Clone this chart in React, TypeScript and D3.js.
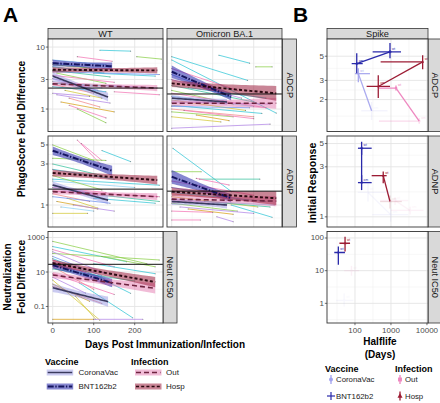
import React from "react";
import * as d3 from "d3";

const FONT = "'Liberation Sans', Arial, Helvetica, sans-serif";

// ---------- categories ----------
const variants = ["WT", "Omicron BA.1"];
const assays = ["ADCP", "ADNP", "Neut IC50"];
const vaccineGroups = ["CoronaVac", "BNT162b2"];
const infectionGroups = ["Out", "Hosp"];

// ---------- ticks ----------
const dayTicks = [0, 100, 200];
const dayMinor = [50, 150, 250];
const aTicks = [[1, 3, 10], [1, 3, 5], [0.1, 10, 1000]];
const aTickLabels = [["1", "3", "10"], ["1", "3", "5"], ["0.1", "10", "1000"]];
const aMinor = [[0.548, 1.73, 5.48], [0.707, 1.73, 3.87], [0.01, 1, 100]];
const bTicks = [[2, 3, 5], [1, 3, 5], [1, 10, 100]];
const bTickLabels = [["2", "3", "5"], ["1", "3", "5"], ["1", "10", "100"]];
const bMinor = [[1.41, 2.45, 3.87], [1.73, 3.87], [0.316, 3.16, 31.6]];
const hlTicks = [100, 1000, 10000];
const hlMinor = [31.6, 316, 3162];

// ---------- individual subjects: [day0, day1, value0, value1, colourIndex] ----------
const spagWT_ADCP = [
  [115, 190, 8.9, 8.6, 0], [205, 265, 7.0, 6.4, 1], [60, 145, 7.0, 5.9, 3], [0, 130, 6.2, 5.2, 9],
  [0, 120, 5.6, 4.3, 7], [0, 125, 4.8, 3.8, 0], [0, 140, 4.2, 3.3, 8], [10, 130, 3.8, 2.6, 1],
  [0, 150, 3.5, 2.7, 3], [0, 110, 3.1, 2.0, 4], [0, 120, 2.8, 2.2, 9], [0, 100, 2.5, 1.8, 6],
  [0, 130, 2.3, 1.9, 0], [30, 120, 2.0, 1.5, 2], [0, 90, 1.8, 1.6, 4], [40, 115, 1.5, 1.08, 6],
  [40, 130, 1.15, 0.72, 3], [60, 130, 1.0, 0.6, 1], [10, 140, 1.7, 1.25, 4], [0, 170, 2.6, 2.3, 0],
  [100, 250, 3.8, 3.4, 0], [0, 260, 4.0, 3.6, 7], [20, 150, 1.3, 0.9, 5], [0, 90, 5.2, 4.6, 1],
  [130, 250, 2.4, 2.2, 4], [150, 260, 1.9, 1.7, 3],
];
const spagOm_ADCP = [
  [0, 185, 7.0, 2.9, 0], [0, 255, 6.2, 0.86, 0], [115, 190, 7.4, 5.5, 0], [205, 245, 4.8, 4.8, 1],
  [0, 160, 4.5, 2.0, 3], [0, 140, 3.6, 1.6, 7], [0, 170, 3.0, 1.5, 4], [0, 200, 2.4, 1.3, 8],
  [0, 150, 2.0, 1.2, 1], [0, 230, 1.8, 1.05, 3], [0, 200, 1.6, 1.1, 9], [0, 180, 1.4, 0.95, 2],
  [0, 240, 1.3, 1.2, 4], [0, 220, 1.15, 0.85, 0], [0, 200, 1.0, 0.75, 6], [0, 150, 0.9, 0.75, 1],
  [0, 240, 0.49, 0.57, 4], [60, 140, 0.8, 0.65, 5], [30, 200, 0.95, 0.7, 3], [0, 190, 1.1, 1.05, 7],
  [40, 230, 2.2, 1.5, 0], [0, 120, 0.75, 0.62, 2],
];
const spagWT_ADNP = [
  [60, 115, 5.7, 3.05, 3], [70, 120, 5.2, 3.3, 3], [120, 190, 4.3, 3.2, 0], [0, 100, 5.0, 3.3, 1],
  [0, 130, 3.5, 3.3, 1], [0, 120, 3.0, 2.2, 8], [0, 150, 2.6, 2.0, 0], [0, 260, 2.0, 1.7, 0],
  [0, 200, 1.9, 1.6, 9], [0, 110, 1.7, 1.3, 4], [0, 130, 1.6, 1.4, 3], [0, 260, 1.45, 1.25, 3],
  [0, 90, 1.35, 1.1, 6], [35, 110, 1.2, 0.92, 2], [0, 85, 0.8, 0.8, 2], [10, 110, 1.1, 0.9, 5],
  [0, 140, 1.25, 1.05, 7], [50, 150, 1.0, 0.85, 4], [100, 250, 1.2, 1.05, 0], [120, 260, 1.3, 1.1, 8],
  [0, 120, 2.2, 1.5, 1], [20, 100, 0.95, 0.85, 9],
];
const spagOm_ADNP = [
  [3, 146, 4.56, 1.43, 0], [0, 72, 2.44, 2.44, 1], [68, 215, 2.0, 2.0, 8], [60, 140, 2.04, 1.71, 3],
  [145, 245, 1.0, 0.72, 0], [110, 150, 0.73, 0.64, 4], [0, 70, 0.67, 0.67, 3], [0, 200, 1.9, 1.3, 3],
  [0, 180, 1.6, 1.15, 7], [0, 230, 1.4, 1.1, 0], [0, 210, 1.25, 0.95, 2], [0, 250, 1.15, 1.0, 9],
  [0, 160, 1.05, 0.85, 1], [20, 200, 0.95, 0.8, 4], [40, 150, 0.9, 0.78, 5], [0, 120, 1.35, 1.2, 6],
  [80, 240, 1.1, 0.95, 8], [0, 100, 0.85, 0.82, 3],
];
const spagWT_Neut = [
  [0, 230, 600, 30, 1], [0, 180, 300, 40, 0], [0, 150, 200, 20, 3], [0, 260, 120, 50, 1],
  [0, 130, 150, 8, 4], [0, 120, 80, 6, 7], [0, 140, 60, 3, 0], [0, 110, 50, 5, 3],
  [0, 130, 35, 2, 9], [0, 100, 20, 1, 6], [0, 115, 3.4, 0.016, 2], [55, 105, 0.4, 0.018, 2],
  [0, 100, 0.018, 0.018, 5], [100, 220, 0.018, 0.018, 4], [115, 190, 4.5, 0.58, 0], [65, 195, 2.3, 0.022, 0],
  [0, 150, 8, 0.5, 3], [0, 90, 2, 0.2, 5], [0, 200, 15, 3, 8], [120, 250, 80, 20, 1],
  [0, 80, 5, 0.6, 4], [0, 120, 1.5, 0.15, 6], [100, 250, 30, 8, 0],
];

// ---------- group fits: [group, day0, day1, value0, value1, ciHalfWidth0(log10), ciHalfWidth1(log10)] ----------
const fitsWT_ADCP = [
  ["CoronaVac", 0, 135, 3.4, 1.56, 0.065, 0.07],
  ["BNT162b2", 0, 145, 5.5, 4.9, 0.055, 0.06],
  ["Out", 0, 255, 2.55, 2.18, 0.04, 0.05],
  ["Hosp", 0, 255, 4.3, 4.2, 0.045, 0.05],
];
const fitsOm_ADCP = [
  ["CoronaVac", 0, 135, 1.5, 1.3, 0.05, 0.05],
  ["BNT162b2", 0, 145, 4.0, 1.58, 0.1, 0.06],
  ["Out", 0, 255, 1.24, 1.24, 0.05, 0.09],
  ["Hosp", 0, 255, 2.6, 1.79, 0.06, 0.12],
];
const fitsWT_ADNP = [
  ["CoronaVac", 0, 135, 1.71, 1.14, 0.04, 0.05],
  ["BNT162b2", 0, 145, 4.28, 2.5, 0.05, 0.06],
  ["Out", 0, 255, 1.43, 1.25, 0.03, 0.04],
  ["Hosp", 0, 255, 2.36, 1.95, 0.04, 0.05],
];
const fitsOm_ADNP = [
  ["CoronaVac", 0, 135, 1.1, 1.0, 0.04, 0.04],
  ["BNT162b2", 0, 145, 2.13, 1.2, 0.08, 0.05],
  ["Out", 0, 255, 1.17, 1.11, 0.04, 0.06],
  ["Hosp", 0, 255, 1.43, 1.2, 0.05, 0.08],
];
const fitsWT_Neut = [
  ["CoronaVac", 0, 135, 1.23, 0.19, 0.25, 0.3],
  ["BNT162b2", 0, 145, 25, 2.3, 0.2, 0.25],
  ["Out", 0, 250, 6.7, 1.13, 0.18, 0.3],
  ["Hosp", 0, 250, 33, 2.6, 0.2, 0.3],
];
// median reference lines per panel
const refADCP = [2.18, 1.75];
const refADNP = [1.53, 1.45];
const refNeut = [28];

// ---------- panel B: [group, variant, halflife, hlLo, hlHi, initial, initLo, initHi, opacity] ----------
const bADCP = [
  ["CoronaVac", "wt", 124, 100, 261, 3.46, 2.88, 3.87, 0.9],
  ["CoronaVac", "om", 290, 150, 800, 1.58, 1.3, 1.9, 0.12],
  ["BNT162b2", "wt", 940, 310, 1900, 5.48, 4.8, 6.6, 1],
  ["BNT162b2", "om", 112, 81, 164, 4.28, 3.48, 5.33, 1],
  ["Out", "wt", 1380, 464, 1500, 2.55, 2.43, 2.7, 1],
  ["Out", "om", 6100, 464, 6500, 1.27, 1.2, 1.35, 0.3],
  ["Hosp", "wt", 7600, 517, 8000, 4.43, 3.79, 5.1, 1],
  ["Hosp", "om", 444, 211, 940, 2.64, 2.07, 3.34, 1],
];
const bADNP = [
  ["CoronaVac", "wt", 230, 120, 900, 1.71, 1.4, 2.1, 0.1],
  ["CoronaVac", "om", 980, 300, 3000, 1.05, 0.9, 1.2, 0.1],
  ["BNT162b2", "wt", 153, 121, 291, 4.51, 3.9, 5.2, 1],
  ["BNT162b2", "om", 153, 121, 291, 2.12, 1.8, 2.5, 1],
  ["Out", "wt", 1300, 500, 3000, 1.43, 1.3, 1.55, 0.1],
  ["Out", "om", 3400, 1000, 8000, 1.15, 1.05, 1.25, 0.1],
  ["Hosp", "wt", 610, 291, 760, 2.47, 2.09, 2.7, 1],
  ["Hosp", "om", 940, 500, 2000, 1.4, 1.2, 1.6, 0.15],
];
const bNeut = [
  ["CoronaVac", "wt", 50, 30, 90, 1.23, 0.8, 2, 0.08],
  ["BNT162b2", "wt", 34.5, 26.6, 52.7, 36, 15.2, 54.6, 1],
  ["Out", "wt", 80, 50, 130, 10, 7, 14, 0.12],
  ["Hosp", "wt", 53, 37, 73, 69, 38.5, 110, 1],
];

// ---------- styles ----------
const subjectPalette = ["#38c8d8", "#8fd14f", "#d6c93c", "#f47ab8", "#b48ae8", "#d9a520", "#f38b8b", "#6f95f2", "#3dc4a2", "#92d4f4"];
const fitStyle: any = {
  CoronaVac: { fill: "#8c8ce0", op: 0.45, stroke: "#3a3a5e", dash: "none", w: 1.6 },
  BNT162b2: { fill: "#2424aa", op: 0.55, stroke: "#14145e", dash: "6,1.6,1.4,1.6", w: 2 },
  Out: { fill: "#e06aa6", op: 0.45, stroke: "#6e2440", dash: "5,3", w: 1.6 },
  Hosp: { fill: "#9c2040", op: 0.55, stroke: "#2a0810", dash: "3,2.2", w: 1.9 },
};
const bColor: any = { CoronaVac: "#a2a2ee", BNT162b2: "#2a2aaa", Out: "#ee88c0", Hosp: "#9c1c34" };

const rowY = [[39, 131.5], [136, 227], [231.5, 323]];
const aCols = [[48, 163], [167, 282]];
const aYDomain = [[0.434, 13.5], [0.555, 6.35], [0.011, 2240]];
const dayDomain = [-11.5, 269];
const bXRange = [327, 428];
const bXDomain = [16.7, 10700];
const bYDomain = [[1.02, 7.19], [0.8, 5.9], [0.25, 158]];

const GRID = "#e4e4e4";
const GRIDMINOR = "#efefef";
const BORDER = "#333333";
const TICKTXT = "#4d4d4d";

function Strip({ x, y, w, h, label, rotate }: any) {
  return (
    <g>
      <rect x={x} y={y} width={w} height={h} fill="#d9d9d9" stroke={BORDER} strokeWidth={0.8} />
      {rotate ? (
        <text transform={`translate(${x + w / 2},${y + h / 2}) rotate(90)`} textAnchor="middle" dominantBaseline="central" fontSize={9.2} fill="#1a1a1a">{label}</text>
      ) : (
        <text x={x + w / 2} y={y + h / 2 + 0.3} textAnchor="middle" dominantBaseline="central" fontSize={9.2} fill="#1a1a1a">{label}</text>
      )}
    </g>
  );
}

function PanelA({ r, c, spag, fits, refVal, showX }: any) {
  const [x0, x1] = aCols[c];
  const [y0, y1] = rowY[r];
  const x = d3.scaleLinear().domain(dayDomain).range([x0, x1]);
  const y = d3.scaleLog().domain(aYDomain[r]).range([y1, y0]);
  const id = `clipA${r}${c}`;
  const area = d3.area<any>().x((p) => x(p.d)).y0((p) => y(p.lo)).y1((p) => y(p.hi));
  const line = d3.line<any>().x((p) => x(p.d)).y((p) => y(p.m));
  const fitPts = (f: any) => {
    const [, d0, d1, v0, v1, s0, s1] = f;
    return d3.range(25).map((i) => {
      const t = i / 24;
      const lv = Math.log10(v0) * (1 - t) + Math.log10(v1) * t;
      const hw = Math.sqrt(((1 - t) * s0) ** 2 + (t * s1) ** 2);
      return { d: d0 + (d1 - d0) * t, m: 10 ** lv, lo: 10 ** (lv - hw), hi: 10 ** (lv + hw) };
    });
  };
  return (
    <g>
      <defs>
        <clipPath id={id}><rect x={x0} y={y0} width={x1 - x0} height={y1 - y0} /></clipPath>
      </defs>
      <rect x={x0} y={y0} width={x1 - x0} height={y1 - y0} fill="white" />
      <g clipPath={`url(#${id})`}>
        {aMinor[r].map((v: number) => <line key={"hm" + v} x1={x0} x2={x1} y1={y(v)} y2={y(v)} stroke={GRIDMINOR} strokeWidth={0.5} />)}
        {dayMinor.map((v) => <line key={"vm" + v} x1={x(v)} x2={x(v)} y1={y0} y2={y1} stroke={GRIDMINOR} strokeWidth={0.5} />)}
        {aTicks[r].map((v: number) => <line key={"h" + v} x1={x0} x2={x1} y1={y(v)} y2={y(v)} stroke={GRID} strokeWidth={0.9} />)}
        {dayTicks.map((v) => <line key={"v" + v} x1={x(v)} x2={x(v)} y1={y0} y2={y1} stroke={GRID} strokeWidth={0.9} />)}
        {spag.map((s: number[], i: number) => (
          <g key={"s" + i}>
            <line x1={x(s[0])} y1={y(s[2])} x2={x(s[1])} y2={y(s[3])} stroke={subjectPalette[s[4]]} strokeWidth={0.9} opacity={0.85} />
            <circle cx={x(s[0])} cy={y(s[2])} r={0.55} fill="#555" opacity={0.6} />
            <circle cx={x(s[1])} cy={y(s[3])} r={0.55} fill="#555" opacity={0.6} />
          </g>
        ))}
        {fits.map((f: any) => (
          <path key={"r" + f[0]} d={area(fitPts(f)) || ""} fill={fitStyle[f[0]].fill} fillOpacity={fitStyle[f[0]].op} />
        ))}
        {fits.map((f: any) => (
          <path key={"l" + f[0]} d={line(fitPts(f)) || ""} fill="none" stroke={fitStyle[f[0]].stroke} strokeWidth={fitStyle[f[0]].w} strokeDasharray={fitStyle[f[0]].dash} />
        ))}
        <line x1={x0} x2={x1} y1={y(refVal)} y2={y(refVal)} stroke="#111" strokeWidth={1} />
      </g>
      <rect x={x0} y={y0} width={x1 - x0} height={y1 - y0} fill="none" stroke={BORDER} strokeWidth={0.9} />
      {c === 0 && aTicks[r].map((v: number, i: number) => (
        <g key={"yt" + v}>
          <line x1={x0 - 2.2} x2={x0} y1={y(v)} y2={y(v)} stroke={BORDER} strokeWidth={0.7} />
          <text x={x0 - 3} y={y(v)} textAnchor="end" dominantBaseline="central" fontSize={8} fill={TICKTXT}>{aTickLabels[r][i]}</text>
        </g>
      ))}
      {showX && dayTicks.map((v) => (
        <g key={"xt" + v}>
          <line x1={x(v)} x2={x(v)} y1={y1} y2={y1 + 2.2} stroke={BORDER} strokeWidth={0.7} />
          <text x={x(v)} y={y1 + 9.5} textAnchor="middle" fontSize={8} fill={TICKTXT}>{String(v)}</text>
        </g>
      ))}
    </g>
  );
}

function PointShape({ g, cx, cy, color, s }: any) {
  if (g === "BNT162b2") return <g><line x1={cx - s} x2={cx + s} y1={cy} y2={cy} stroke={color} strokeWidth={1.2} /><line x1={cx} x2={cx} y1={cy - s} y2={cy + s} stroke={color} strokeWidth={1.2} /></g>;
  if (g === "Hosp") return <path d={`M${cx},${cy - s}L${cx + s * 0.9},${cy + s * 0.6}L${cx - s * 0.9},${cy + s * 0.6}Z`} fill={color} />;
  if (g === "Out") return <rect x={cx - s * 0.7} y={cy - s * 0.7} width={s * 1.4} height={s * 1.4} fill={color} />;
  return <circle cx={cx} cy={cy} r={s * 0.7} fill={color} />;
}

function PanelB({ r, items, showX }: any) {
  const [x0, x1] = bXRange;
  const [y0, y1] = rowY[r];
  const x = d3.scaleLog().domain(bXDomain).range([x0, x1]);
  const y = d3.scaleLog().domain(bYDomain[r]).range([y1, y0]);
  const id = `clipB${r}`;
  const groups = ["CoronaVac", "BNT162b2", "Out", "Hosp"];
  return (
    <g>
      <defs>
        <clipPath id={id}><rect x={x0} y={y0} width={x1 - x0} height={y1 - y0} /></clipPath>
      </defs>
      <rect x={x0} y={y0} width={x1 - x0} height={y1 - y0} fill="white" />
      <g clipPath={`url(#${id})`}>
        {bMinor[r].map((v: number) => <line key={"hm" + v} x1={x0} x2={x1} y1={y(v)} y2={y(v)} stroke={GRIDMINOR} strokeWidth={0.5} />)}
        {hlMinor.map((v) => <line key={"vm" + v} x1={x(v)} x2={x(v)} y1={y0} y2={y1} stroke={GRIDMINOR} strokeWidth={0.5} />)}
        {bTicks[r].map((v: number) => <line key={"h" + v} x1={x0} x2={x1} y1={y(v)} y2={y(v)} stroke={GRID} strokeWidth={0.9} />)}
        {hlTicks.map((v) => <line key={"v" + v} x1={x(v)} x2={x(v)} y1={y0} y2={y1} stroke={GRID} strokeWidth={0.9} />)}
        {groups.map((g) => {
          const pts = items.filter((it: any) => it[0] === g);
          if (pts.length < 2) return null;
          const op = Math.max(pts[0][8], pts[1][8]);
          return <line key={"c" + g} x1={x(pts[0][2])} y1={y(pts[0][5])} x2={x(pts[1][2])} y2={y(pts[1][5])} stroke={bColor[g]} strokeWidth={1.3} opacity={op} />;
        })}
        {items.map((it: any, i: number) => {
          const [g, v, hl, hlLo, hlHi, ini, iLo, iHi, op] = it;
          const col = bColor[g];
          return (
            <g key={"p" + i} opacity={op}>
              <line x1={x(hlLo)} x2={x(hlHi)} y1={y(ini)} y2={y(ini)} stroke={col} strokeWidth={1.3} />
              <line x1={x(hl)} x2={x(hl)} y1={y(iLo)} y2={y(iHi)} stroke={col} strokeWidth={1.3} />
              <PointShape g={g} cx={x(hl)} cy={y(ini)} color={col} s={1.5} />
              <text x={x(hl) + 2} y={y(ini) - 2} fontSize={3.2} fill={col}>{v}</text>
            </g>
          );
        })}
      </g>
      <rect x={x0} y={y0} width={x1 - x0} height={y1 - y0} fill="none" stroke={BORDER} strokeWidth={0.9} />
      {bTicks[r].map((v: number, i: number) => (
        <g key={"yt" + v}>
          <line x1={x0 - 2.2} x2={x0} y1={y(v)} y2={y(v)} stroke={BORDER} strokeWidth={0.7} />
          <text x={x0 - 3} y={y(v)} textAnchor="end" dominantBaseline="central" fontSize={8} fill={TICKTXT}>{bTickLabels[r][i]}</text>
        </g>
      ))}
      {showX && hlTicks.map((v) => (
        <g key={"xt" + v}>
          <line x1={x(v)} x2={x(v)} y1={y1} y2={y1 + 2.2} stroke={BORDER} strokeWidth={0.7} />
          <text x={x(v)} y={y1 + 9.5} textAnchor="middle" fontSize={8} fill={TICKTXT}>{String(v)}</text>
        </g>
      ))}
    </g>
  );
}

function LegendKeyA({ g, x, y }: any) {
  const st = fitStyle[g];
  return (
    <g>
      <rect x={x} y={y} width={26.5} height={6} fill={st.fill} fillOpacity={st.op} />
      <line x1={x + 1} x2={x + 25.5} y1={y + 3} y2={y + 3} stroke={st.stroke} strokeWidth={st.w * 0.9} strokeDasharray={st.dash} />
    </g>
  );
}

function LegendKeyB({ g, cx, cy }: any) {
  const col = bColor[g];
  if (g === "BNT162b2") return <PointShape g={g} cx={cx} cy={cy} color={col} s={4} />;
  return (
    <g>
      <line x1={cx} x2={cx} y1={cy - 4.5} y2={cy + 4.5} stroke={col} strokeWidth={1.3} />
      <PointShape g={g} cx={cx} cy={cy} color={col} s={2.8} />
    </g>
  );
}

export default function App() {
  const spagA = [[spagWT_ADCP, spagOm_ADCP], [spagWT_ADNP, spagOm_ADNP], [spagWT_Neut]];
  const fitsA = [[fitsWT_ADCP, fitsOm_ADCP], [fitsWT_ADNP, fitsOm_ADNP], [fitsWT_Neut]];
  const refsA = [refADCP, refADNP, refNeut];
  const bItems = [bADCP, bADNP, bNeut];
  return (
    <svg width={440} height={403} viewBox="0 0 440 403" style={{ position: "absolute", left: 0, top: 0, background: "white" }} fontFamily={FONT}>
      <rect x={0} y={0} width={440} height={403} fill="white" />
      <text x={3} y={21.7} fontSize={21} fontWeight="bold" fill="#000">A</text>
      <text x={293} y={21.7} fontSize={21} fontWeight="bold" fill="#000">B</text>

      {/* Panel A strips */}
      {variants.map((v, c) => (
        <Strip key={v} x={aCols[c][0]} y={28.5} w={aCols[c][1] - aCols[c][0]} h={10.5} label={v} />
      ))}
      <Strip x={282.5} y={rowY[0][0]} w={14} h={rowY[0][1] - rowY[0][0]} label={assays[0]} rotate />
      <Strip x={282.5} y={rowY[1][0]} w={14} h={rowY[1][1] - rowY[1][0]} label={assays[1]} rotate />
      <Strip x={163} y={rowY[2][0]} w={14} h={rowY[2][1] - rowY[2][0]} label={assays[2]} rotate />

      {spagA.map((row, r) => row.map((sp, c) => (
        <PanelA key={`${r}${c}`} r={r} c={c} spag={sp} fits={fitsA[r][c]} refVal={refsA[r][c]} showX={r === 2} />
      )))}

      {/* Panel B */}
      <Strip x={bXRange[0]} y={28.5} w={bXRange[1] - bXRange[0]} h={10.5} label="Spike" />
      {assays.map((a, r) => (
        <Strip key={a} x={428} y={rowY[r][0]} w={14} h={rowY[r][1] - rowY[r][0]} label={a} rotate />
      ))}
      {bItems.map((items, r) => <PanelB key={r} r={r} items={items} showX={r === 2} />)}

      {/* axis titles */}
      <text transform="translate(25,129) rotate(-90)" textAnchor="middle" fontSize={10.2} fontWeight="bold" fill="#000">PhagoScore Fold Difference</text>
      <text transform="translate(11,277) rotate(-90)" textAnchor="middle" fontSize={10.2} fontWeight="bold" fill="#000">Neutralization</text>
      <text transform="translate(24.5,277) rotate(-90)" textAnchor="middle" fontSize={10.2} fontWeight="bold" fill="#000">Fold Difference</text>
      <text x={165} y={348} textAnchor="middle" fontSize={10} fontWeight="bold" fill="#000">Days Post Immunization/Infection</text>
      <text transform="translate(316,183) rotate(-90)" textAnchor="middle" fontSize={10.5} fontWeight="bold" fill="#000">Initial Response</text>
      <text x={380} y={345} textAnchor="middle" fontSize={10} fontWeight="bold" fill="#000">Halflife</text>
      <text x={380} y={358} textAnchor="middle" fontSize={10} fontWeight="bold" fill="#000">(Days)</text>

      {/* Legend A */}
      <text x={45} y={365} fontSize={9} fontWeight="bold" fill="#000">Vaccine</text>
      {vaccineGroups.map((g, i) => (
        <g key={g}>
          <LegendKeyA g={g} x={46.7} y={369.5 + i * 14} />
          <text x={78.5} y={372.5 + i * 14} dominantBaseline="central" fontSize={8} fill="#1a1a1a">{g}</text>
        </g>
      ))}
      <text x={131} y={365} fontSize={9} fontWeight="bold" fill="#000">Infection</text>
      {infectionGroups.map((g, i) => (
        <g key={g}>
          <LegendKeyA g={g} x={135} y={369.5 + i * 14} />
          <text x={166} y={372.5 + i * 14} dominantBaseline="central" fontSize={8} fill="#1a1a1a">{g}</text>
        </g>
      ))}

      {/* Legend B */}
      <text x={325} y={371.5} fontSize={9} fontWeight="bold" fill="#000">Vaccine</text>
      {vaccineGroups.map((g, i) => (
        <g key={g}>
          <LegendKeyB g={g} cx={331} cy={379.5 + i * 16.5} />
          <text x={336} y={379.5 + i * 16.5} dominantBaseline="central" fontSize={7.8} fill="#1a1a1a">{g}</text>
        </g>
      ))}
      <text x={395} y={371.5} fontSize={9} fontWeight="bold" fill="#000">Infection</text>
      {infectionGroups.map((g, i) => (
        <g key={g}>
          <LegendKeyB g={g} cx={400} cy={379.5 + i * 16.5} />
          <text x={405} y={379.5 + i * 16.5} dominantBaseline="central" fontSize={7.8} fill="#1a1a1a">{g}</text>
        </g>
      ))}
    </svg>
  );
}
